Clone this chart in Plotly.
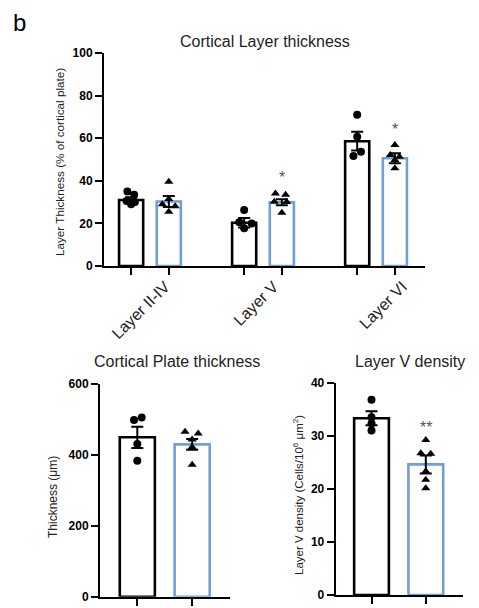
import plotly.graph_objects as go

# ---------------- data ----------------
# Top panel: Cortical Layer thickness
layer_groups = ["Layer II-IV", "Layer V", "Layer VI"]
layer_ctrl_mean = [31.0, 20.3, 58.6]
layer_ctrl_sem = [1.3, 2.2, 4.4]
layer_mut_mean = [30.3, 29.9, 50.6]
layer_mut_sem = [2.6, 1.4, 2.3]
layer_ctrl_dots = [[35.0, 33.5, 30.5, 30.0, 29.0],
                   [26.3, 20.5, 20.0, 17.7],
                   [71.0, 60.7, 53.7, 51.6]]
layer_mut_dots = [[39.5, 31.5, 29.0, 28.0, 25.5],
                  [34.0, 33.5, 30.2, 30.0, 25.0],
                  [56.8, 52.1, 51.3, 49.8, 45.9]]
layer_sig = ["", "*", "*"]
layer_ticks = [0, 20, 40, 60, 80, 100]

# Bottom left: Cortical Plate thickness
plate_mean = [449, 429]
plate_sem = [30, 15]
plate_dots = [[505, 498, 430, 383],
              [465, 460, 443, 422, 372]]
plate_ticks = [0, 200, 400, 600]

# Bottom right: Layer V density
dens_mean = [33.3, 24.6]
dens_sem = [1.3, 1.7]
dens_dots = [[36.8, 33.5, 32.3, 31.0],
             [29.2, 26.7, 26.6, 23.3, 21.7, 20.1]]
dens_sig = ["", "**"]
dens_ticks = [0, 10, 20, 30, 40]

# ---------------- styles ----------------
FONT = "Liberation Sans, Arial, sans-serif"
BLACK = "#000000"
BLUE = "#6F9FD8"
BAR_W = 0.64
# horizontal spread of dots (style only)
layer_ctrl_jit = [[-0.1, 0.08, -0.12, 0.1, 0.0], [0.0, -0.13, 0.2, 0.0], [0.0, 0.0, 0.1, -0.1]]
layer_mut_jit = [[0.0, 0.0, -0.17, 0.17, 0.0], [-0.17, 0.1, -0.2, 0.13, 0.0], [0.0, -0.12, 0.12, 0.0, 0.0]]
plate_jit = [[0.08, -0.06, 0.0, 0.0], [-0.13, 0.11, 0.0, 0.0, 0.0]]
dens_jit = [[0.0, 0.0, 0.0, 0.0], [0.0, -0.09, 0.09, 0.0, 0.0, 0.0]]
label_pos = [0.9, 3.78, 7.2]  # where the rotated group labels end

fig = go.Figure()


def add_panel(xa, ya, xpos, means, sems, colors, dots, jits, symbols):
    fig.add_trace(go.Bar(
        x=xpos, y=means, width=BAR_W, xaxis=xa, yaxis=ya,
        marker=dict(color="white", line=dict(color=colors, width=2.6)),
        error_y=dict(type="data", array=sems, visible=True, color=BLACK,
                     thickness=2, width=6),
        showlegend=False, hoverinfo="skip"))
    for xp, d, j, s in zip(xpos, dots, jits, symbols):
        fig.add_trace(go.Scatter(
            x=[xp + o for o in j], y=d, mode="markers", xaxis=xa, yaxis=ya,
            marker=dict(color=BLACK, size=8, symbol=s),
            showlegend=False, hoverinfo="skip"))


# top panel
top_pos_ctrl = [0, 3, 6]
top_pos_mut = [1, 4, 7]
xpos = []
means = []
sems = []
cols = []
dots = []
jits = []
syms = []
for i in range(3):
    xpos += [top_pos_ctrl[i], top_pos_mut[i]]
    means += [layer_ctrl_mean[i], layer_mut_mean[i]]
    sems += [layer_ctrl_sem[i], layer_mut_sem[i]]
    cols += [BLACK, BLUE]
    dots += [layer_ctrl_dots[i], layer_mut_dots[i]]
    jits += [layer_ctrl_jit[i], layer_mut_jit[i]]
    syms += ["circle", "triangle-up"]
add_panel("x", "y", xpos, means, sems, cols, dots, jits, syms)

# bottom left
add_panel("x3", "y3", [0, 1], plate_mean, plate_sem, [BLACK, BLUE], plate_dots, plate_jit,
          ["circle", "triangle-up"])
# bottom right
add_panel("x4", "y4", [0, 1], dens_mean, dens_sem, [BLACK, BLUE], dens_dots, dens_jit,
          ["circle", "triangle-up"])

# invisible trace so that the label axis (xaxis2) is drawn
fig.add_trace(go.Scatter(x=label_pos, y=[-10, -10, -10], xaxis="x2", yaxis="y",
                         mode="markers", marker=dict(opacity=0), showlegend=False,
                         hoverinfo="skip"))

axis_common = dict(showline=True, linecolor=BLACK, linewidth=2, ticks="outside",
                   tickcolor=BLACK, tickwidth=2, ticklen=7, showgrid=False,
                   zeroline=False, fixedrange=True, automargin=False)
ytick_font = dict(family=FONT, size=12, color=BLACK, weight="bold")

fig.update_layout(
    template="none",
    width=479, height=608,
    margin=dict(l=0, r=0, t=0, b=0, autoexpand=False),
    paper_bgcolor="white", plot_bgcolor="white",
    bargap=0,
    xaxis=dict(domain=[0.2171, 0.8873], range=[-0.72, 7.8], anchor="y",
               tickvals=xpos, showticklabels=False, **axis_common),
    xaxis2=dict(domain=[0.2171, 0.8873], range=[-0.72, 7.8], anchor="y",
                overlaying="x", side="bottom", showline=False, ticks="outside",
                ticklen=4, tickcolor="rgba(0,0,0,0)", showgrid=False, zeroline=False,
                automargin=False,
                tickvals=label_pos, ticktext=layer_groups, tickangle=-45,
                tickfont=dict(family=FONT, size=16, color="#222222"), fixedrange=True),
    yaxis=dict(domain=[0.5625, 0.9128], range=[0, 100], anchor="x",
               tickvals=layer_ticks, tickfont=ytick_font, **axis_common),
    xaxis3=dict(domain=[0.2088, 0.4802], range=[-0.68, 1.69], anchor="y3",
                tickvals=[0, 1], showticklabels=False, **axis_common),
    yaxis3=dict(domain=[0.0186, 0.3689], range=[0, 600], anchor="x3",
                tickvals=plate_ticks, tickfont=ytick_font, **axis_common),
    xaxis4=dict(domain=[0.7008, 0.966], range=[-0.66, 1.68], anchor="y4",
                tickvals=[0, 1], showticklabels=False, **axis_common),
    yaxis4=dict(domain=[0.0214, 0.3706], range=[0, 40], anchor="x4",
                tickvals=dens_ticks, tickfont=ytick_font, **axis_common),
)

ann = []


def paper_text(text, px, py, size, color="#222222", angle=0):
    ann.append(dict(text=text, x=px / 479, y=1 - py / 608, xref="paper", yref="paper",
                    xanchor="center", yanchor="middle", showarrow=False, textangle=angle,
                    font=dict(family=FONT, size=size, color=color)))


# panel letter
paper_text("b", 19, 22, 24, BLACK)
# titles
paper_text("Cortical Layer thickness", 264.5, 42, 16)
paper_text("Cortical Plate thickness", 176.7, 361.5, 16)
paper_text("Layer V density", 409.5, 361, 16)
# y-axis titles
paper_text("Layer Thickness (% of cortical plate)", 59, 162, 11.7, angle=-90)
paper_text("Thickness (μm)", 53, 497, 12, angle=-90)
paper_text("Layer V density (Cells/10<sup>6</sup> μm<sup>2</sup>)", 298, 495, 11.5, angle=-90)

# significance stars
star_font = dict(family=FONT, size=16, color="#555555")
for i, s in enumerate(layer_sig):
    if s:
        ann.append(dict(text=s, x=top_pos_mut[i], y=max(layer_mut_dots[i]), xref="x", yref="y",
                        xanchor="center", yanchor="middle",
                        showarrow=False, yshift=16, font=star_font))
for i, s in enumerate(dens_sig):
    if s:
        ann.append(dict(text=s, x=i, y=max(dens_dots[i]), xref="x4", yref="y4",
                        xanchor="center", yanchor="middle",
                        showarrow=False, yshift=12, font=star_font))
fig.update_layout(annotations=ann)

fig.write_html("out.html", config={"displayModeBar": False, "staticPlot": True},
               post_script="document.body.style.margin='0';document.body.style.padding='0';")
